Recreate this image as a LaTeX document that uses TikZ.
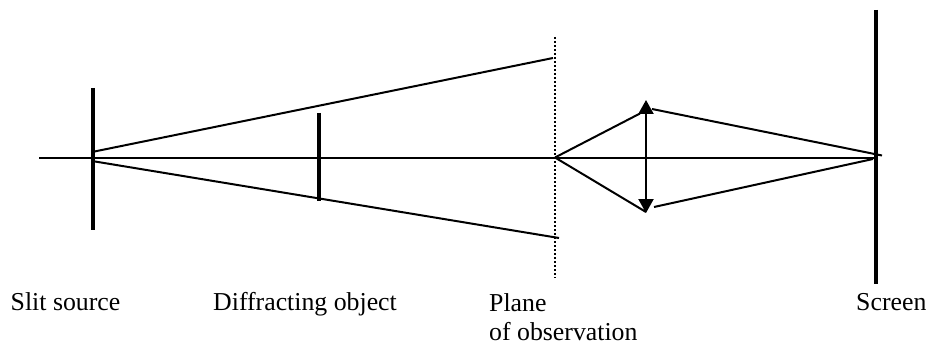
\documentclass[tikz,border=0pt]{standalone}
\usepackage{fontspec}
\setmainfont{Liberation Serif}
\usetikzlibrary{arrows.meta}
\tikzset{
  ray/.style={line width=2pt,black},
  barthin/.style={line width=3.2pt,black},
  barthick/.style={line width=4pt,black},
  lab/.style={anchor=base west,inner sep=0pt,font=\fontsize{25.8}{30}\selectfont},
  dots/.style={line width=2pt,dash pattern=on 2pt off 2pt},
  lens/.style={line width=2.2pt,{Triangle[length=14pt,width=15pt]}-{Triangle[length=14pt,width=15pt]}}
}
\begin{document}
\begin{tikzpicture}[x=1pt,y=-1pt]
\useasboundingbox (0,0) rectangle (930,345);
\coordinate (axisL) at (39,157.5);
\coordinate (axisR) at (874,157.5);
\coordinate (slitT) at (93,88);
\coordinate (slitB) at (93,230);
\coordinate (objT) at (319,113);
\coordinate (objB) at (319,200.5);
\coordinate (scrT) at (876,10);
\coordinate (scrB) at (876,284);
\coordinate (planeT) at (554.7,37);
\coordinate (planeB) at (554.7,278);
\coordinate (srcU) at (92,152);
\coordinate (srcD) at (92,161);
\coordinate (rayU) at (553,58);
\coordinate (rayD) at (559,238);
\coordinate (focus) at (555,157.5);
\coordinate (lensT) at (646,100);
\coordinate (lensB) at (646,213);
\coordinate (lensU) at (640,113.5);
\coordinate (lensUR) at (652,109);
\coordinate (lensD) at (646,212);
\coordinate (lensDR) at (654,207);
\coordinate (imgU) at (882,155.5);
\coordinate (imgD) at (873,159);

\draw[ray] (axisL) -- (axisR);
\draw[barthin] (slitT) -- (slitB);
\draw[barthick] (objT) -- (objB);
\draw[barthick] (scrT) -- (scrB);
\draw[dots] (planeT) -- (planeB);
\draw[ray] (srcU) -- (rayU);
\draw[ray] (srcD) -- (rayD);
\draw[ray] (focus) -- (lensU);
\draw[ray] (focus) -- (lensD);
\draw[ray] (lensUR) -- (imgU);
\draw[ray] (lensDR) -- (imgD);
\draw[lens] (lensT) -- (lensB);

\node[lab] (n1) at (10.5,310) {Slit source};
\node[lab] (n2) at (213,310) {Diffracting object};
\node[lab] (n3) at (489,311) {Plane};
\node[lab] (n4) at (489,340) {of observation};
\node[lab] (n5) at (856,310) {Screen};
\end{tikzpicture}
\end{document}
